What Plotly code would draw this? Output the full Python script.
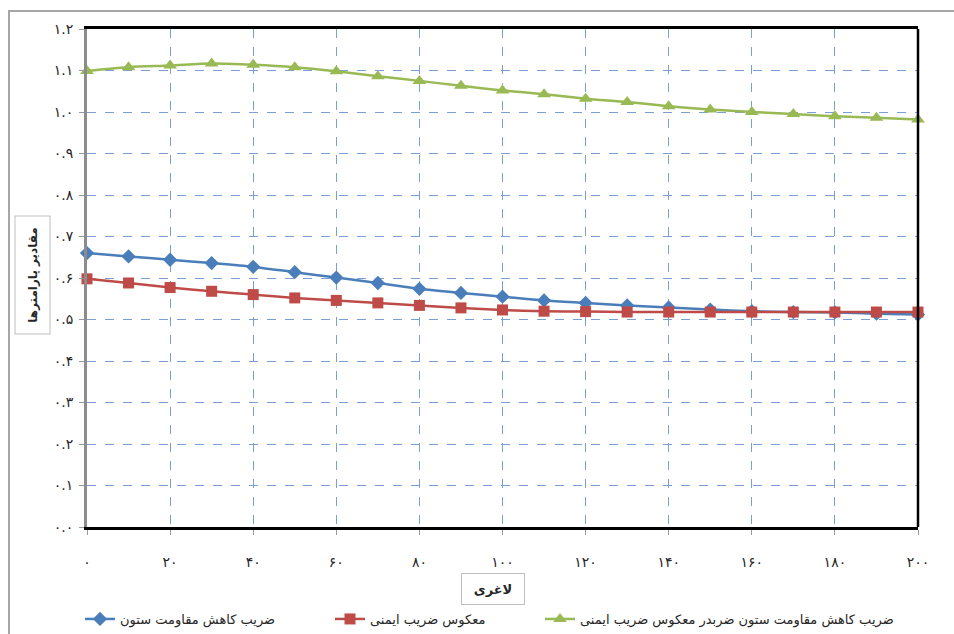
import plotly.graph_objects as go

# ---- data ----
slenderness = [0, 10, 20, 30, 40, 50, 60, 70, 80, 90, 100,
               110, 120, 130, 140, 150, 160, 170, 180, 190, 200]

reduction_factor = [0.660, 0.652, 0.644, 0.636, 0.627, 0.614, 0.601, 0.588, 0.574, 0.564, 0.555,
                    0.546, 0.540, 0.534, 0.529, 0.524, 0.520, 0.518, 0.517, 0.514, 0.512]

inverse_safety = [0.598, 0.588, 0.577, 0.568, 0.560, 0.552, 0.546, 0.540, 0.534, 0.528, 0.523,
                  0.520, 0.519, 0.518, 0.518, 0.518, 0.518, 0.518, 0.518, 0.518, 0.518]

product_factor = [1.099, 1.108, 1.112, 1.117, 1.114, 1.108, 1.098, 1.086, 1.075, 1.063, 1.052,
                  1.043, 1.032, 1.024, 1.014, 1.006, 1.000, 0.995, 0.990, 0.986, 0.982]

series_names = ["ضریب کاهش مقاومت ستون",
                "معکوس ضریب ایمنی",
                "ضریب کاهش مقاومت ستون ضربدر معکوس ضریب ایمنی"]

x_tickvals = [0, 20, 40, 60, 80, 100, 120, 140, 160, 180, 200]
x_ticktext = ["۰", "۲۰", "۴۰", "۶۰", "۸۰", "۱۰۰", "۱۲۰", "۱۴۰", "۱۶۰", "۱۸۰", "۲۰۰"]

y_tickvals = [0.0, 0.1, 0.2, 0.3, 0.4, 0.5, 0.6, 0.7, 0.8, 0.9, 1.0, 1.1, 1.2]
y_ticktext = ["۰.۰", "۰.۱", "۰.۲", "۰.۳", "۰.۴", "۰.۵", "۰.۶", "۰.۷", "۰.۸", "۰.۹",
              "۱.۰", "۱.۱", "۱.۲"]

x_title = "لاغری"
y_title = "مقادیر پارامترها"

# ---- figure ----
FONT = "DejaVu Sans"
W, H = 954, 634
L, R, T, B = 87, 36, 29, 107
PW, PH = W - L - R, H - T - B


def px_x(p):
    return (p - L) / PW


def px_y(p):
    return (H - B - p) / PH


fig = go.Figure()

styles = [
    dict(color="#4a7ebb", symbol="diamond", size=11, legend="legend"),
    dict(color="#be4b48", symbol="square", size=11, legend="legend2"),
    dict(color="#98b954", symbol="triangle-up", size=12, legend="legend3"),
]
for name, ys, st in zip(series_names, [reduction_factor, inverse_safety, product_factor], styles):
    fig.add_trace(go.Scatter(
        x=slenderness, y=ys, name=name, mode="lines+markers",
        line=dict(color=st["color"], width=2.5, shape="spline", smoothing=0.8),
        marker=dict(color=st["color"], symbol=st["symbol"], size=st["size"]),
        legend=st["legend"], cliponaxis=False,
    ))

legend_common = dict(xanchor="left", yanchor="middle", orientation="h",
                     font=dict(family=FONT, size=13, color="#262626"),
                     bgcolor="rgba(0,0,0,0)", borderwidth=0)

fig.update_layout(
    template="none",
    width=W, height=H,
    margin=dict(l=L, r=R, t=T, b=B, autoexpand=False),
    paper_bgcolor="white", plot_bgcolor="white",
    font=dict(family=FONT, size=12, color="#262626"),
    showlegend=True,
    xaxis=dict(
        range=[0, 200], tickvals=x_tickvals, ticktext=x_ticktext,
        showgrid=True, gridcolor="#7a9fd6", griddash="dash", gridwidth=1,
        showline=True, linecolor="black", linewidth=2.5, mirror=True,
        ticks="outside", ticklen=5, tickcolor="#9a9a9a",
        ticklabelstandoff=15, zeroline=False, automargin=False,
        tickfont=dict(family=FONT, size=14, color="#262626"),
    ),
    yaxis=dict(
        range=[0, 1.2], tickvals=y_tickvals, ticktext=y_ticktext,
        showgrid=True, gridcolor="#7a9fd6", griddash="dash", gridwidth=1,
        showline=True, linecolor="#8c8c8c", linewidth=3,
        ticks="outside", ticklen=5, tickcolor="#9a9a9a",
        ticklabelstandoff=3, zeroline=False, automargin=False,
        tickfont=dict(family=FONT, size=14, color="#262626"),
    ),
    legend=dict(x=px_x(80), y=px_y(619), **legend_common),
    legend2=dict(x=px_x(330), y=px_y(619), **legend_common),
    legend3=dict(x=px_x(540), y=px_y(619), **legend_common),
)

# right border of plot area
fig.add_shape(type="line", xref="paper", yref="paper", x0=1, x1=1, y0=0, y1=1,
              line=dict(color="black", width=2.5), layer="above")
# outer chart border
fig.add_shape(type="rect", xref="paper", yref="paper",
              x0=px_x(9), x1=px_x(980), y0=px_y(11), y1=px_y(660),
              line=dict(color="#a6a6a6", width=2), layer="below")

# axis titles in boxes
fig.add_annotation(text="<b>" + x_title + "</b>", xref="paper", yref="paper",
                   x=px_x(493), y=px_y(589), xanchor="center", yanchor="middle",
                   showarrow=False, width=60, height=28, borderpad=1,
                   bordercolor="#bfbfbf", borderwidth=1,
                   font=dict(family=FONT, size=13, color="#262626"))
fig.add_annotation(text="<b>" + y_title + "</b>", xref="paper", yref="paper",
                   x=px_x(32), y=px_y(275.5), xanchor="center", yanchor="middle",
                   showarrow=False, textangle=-90,
                   width=115, height=32, borderpad=1,
                   bordercolor="#bfbfbf", borderwidth=1,
                   font=dict(family=FONT, size=12, color="#262626"))

fig.write_html("out.html",
               config={"displayModeBar": False},
               post_script="document.body.style.margin='0';document.body.style.padding='0';")
